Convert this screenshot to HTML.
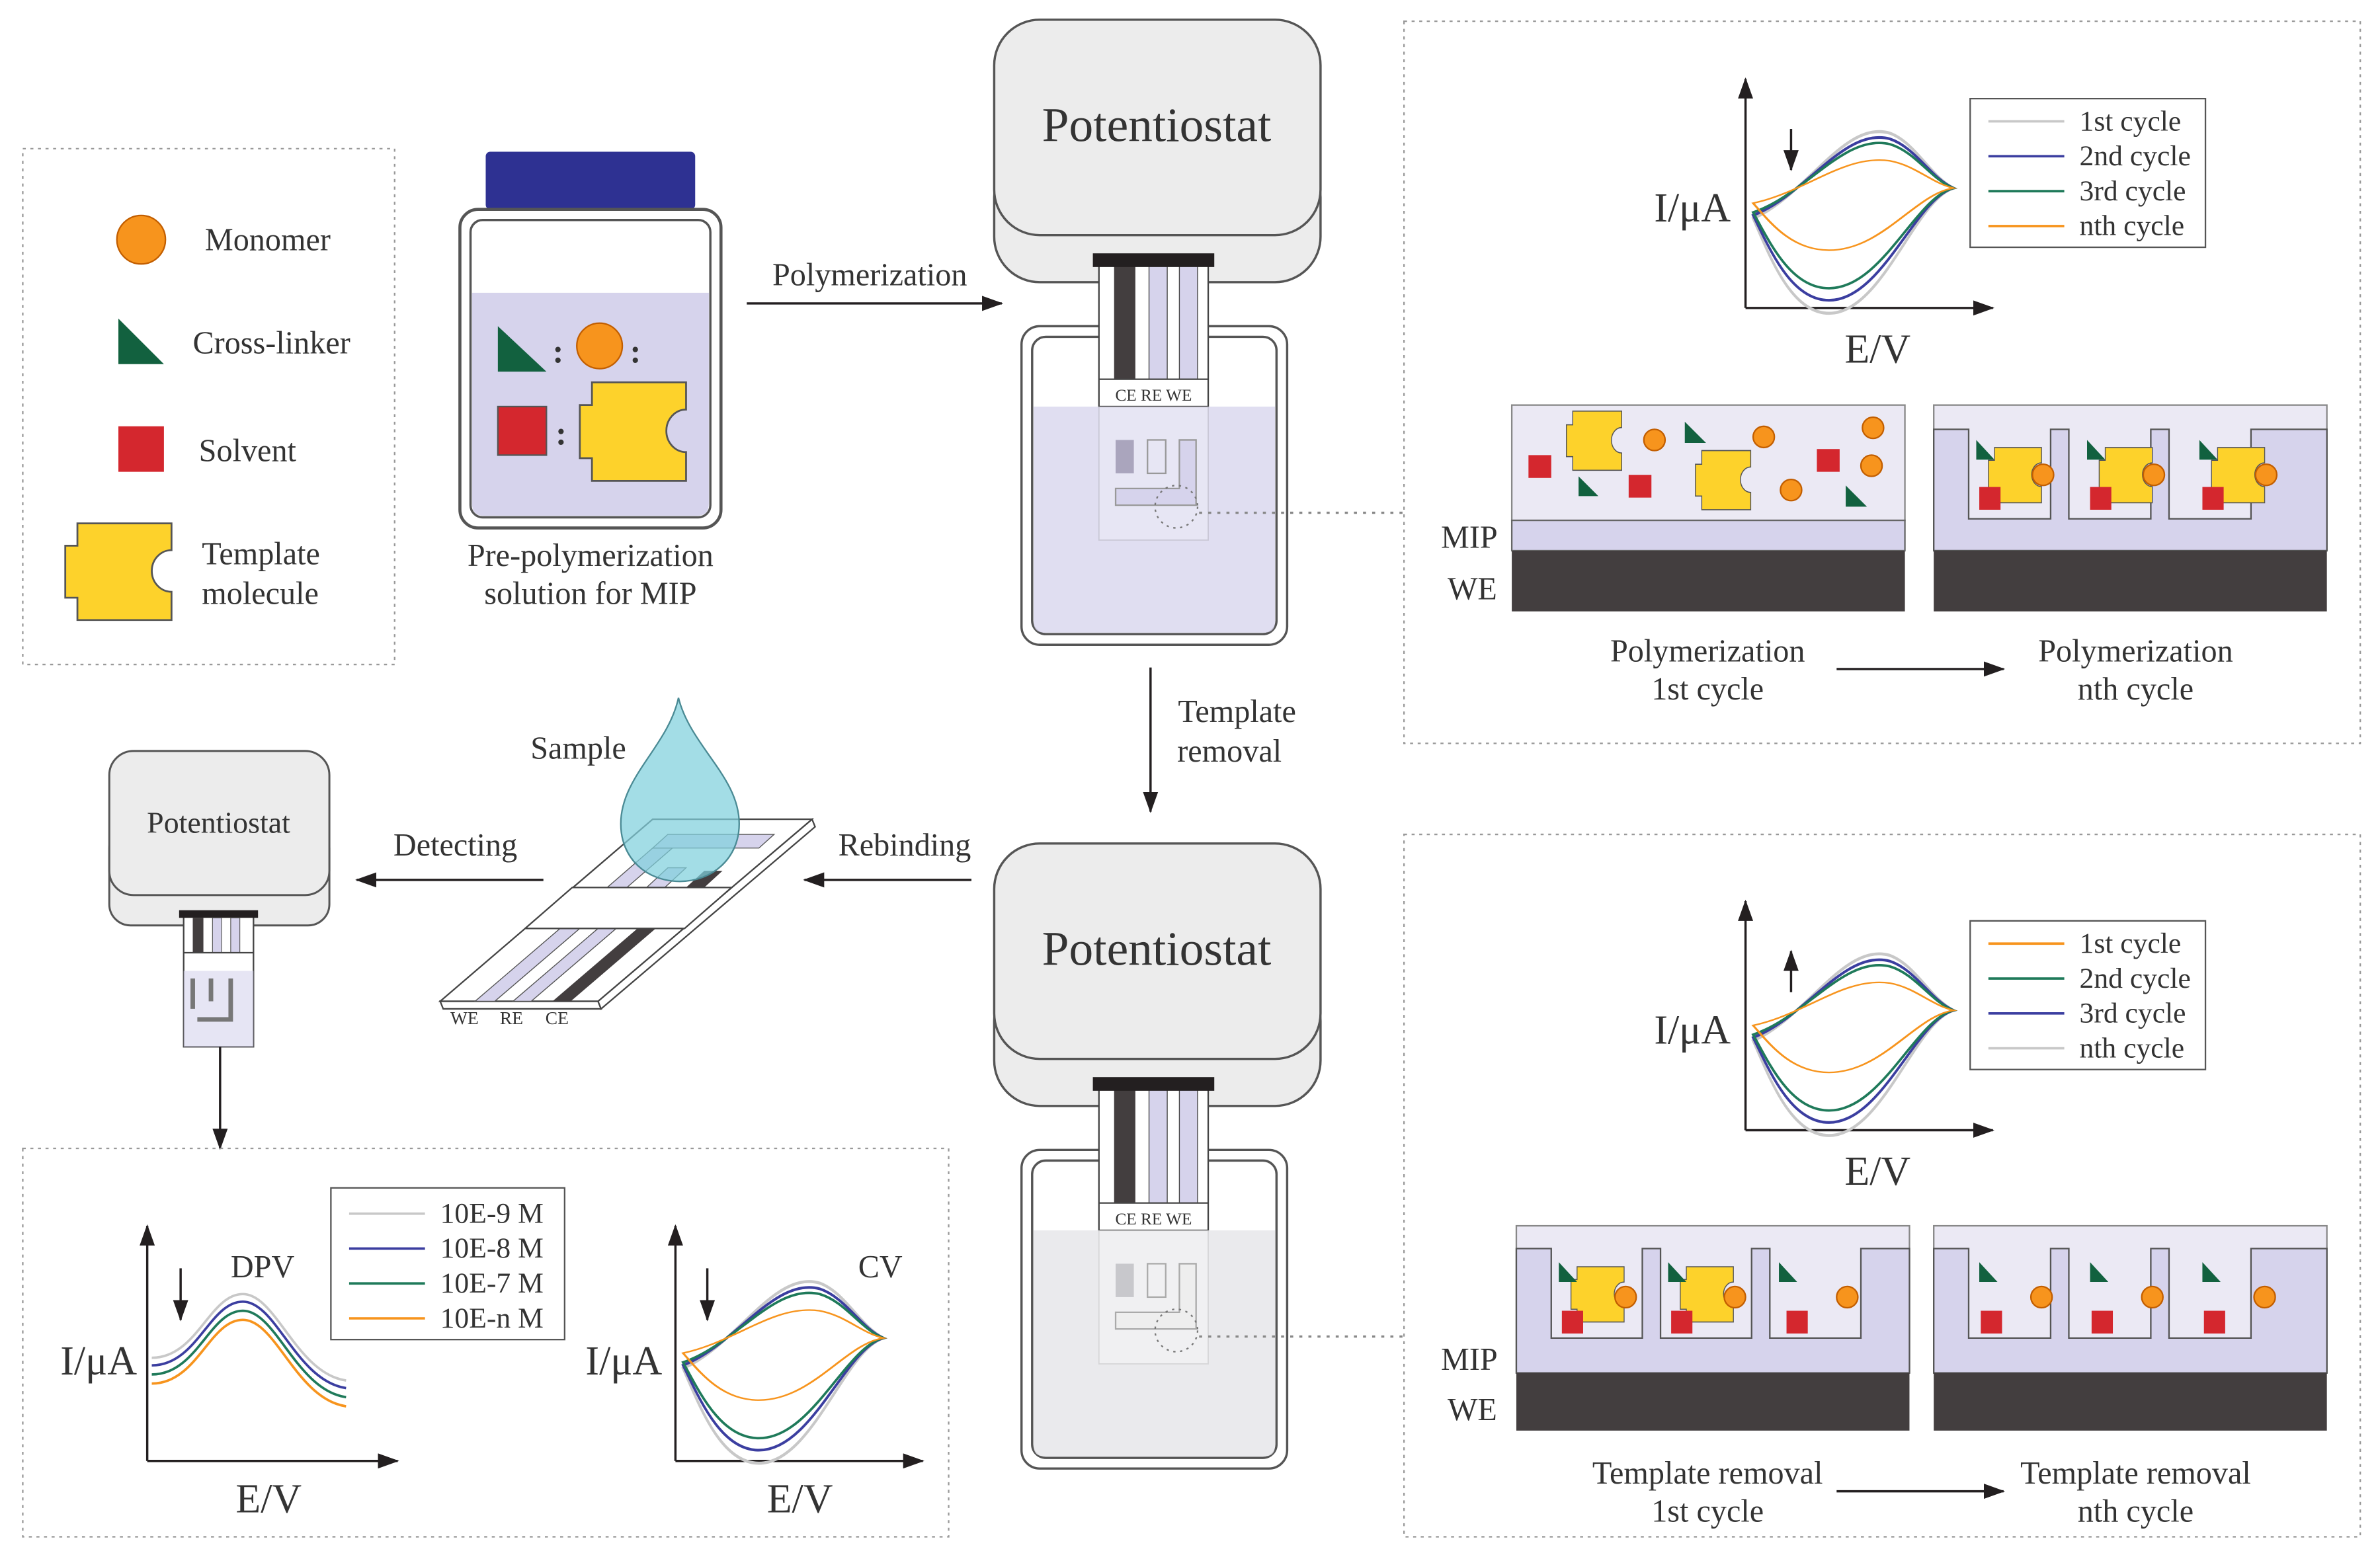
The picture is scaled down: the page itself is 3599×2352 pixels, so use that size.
<!DOCTYPE html>
<html><head><meta charset="utf-8"><style>
html,body{margin:0;padding:0;background:#fff}
svg{display:block}
text{font-family:"Liberation Serif",serif;fill:#333}
</style></head><body>
<svg width="3599" height="2352" viewBox="0 0 1568 1025" preserveAspectRatio="none" xmlns="http://www.w3.org/2000/svg">
<defs>
<marker id="ah2" viewBox="0 0 14 10" markerWidth="14" markerHeight="10" refX="13" refY="5" orient="auto" markerUnits="userSpaceOnUse"><path d="M0,0 L14,5 L0,10 Z" fill="#231f20"/></marker>
<path id="tpl" d="M8,0 H70 V18 A13,14 0 0 0 70,46 V65 H8 V50 H0 V15 H8 Z" fill="#fdd22b" stroke="#555" stroke-width="1.2"/>
<path id="cvc" d="M1155,140 C1190,128 1215,88 1245,95 C1262,100 1272,118 1287,124 C1262,130 1240,190 1205,190 C1180,190 1166,160 1155,140Z" fill="none" stroke-width="1.6"/>
</defs>

<!-- Legend -->
<rect x="15" y="98" width="245" height="340" fill="none" stroke="#999" stroke-dasharray="2,3"/>
<circle cx="93" cy="158" r="16" fill="#f7941d" stroke="#c25e00"/>
<text x="135" y="165" font-size="21">Monomer</text>
<path d="M78,210 L78,240 L108,240Z" fill="#12613f"/>
<text x="127" y="233" font-size="21">Cross-linker</text>
<rect x="78" y="281" width="30" height="30" fill="#d4272e"/>
<text x="131" y="304" font-size="21">Solvent</text>
<use href="#tpl" transform="translate(43,345) scale(1,0.98)"/>
<text x="133" y="372" font-size="21">Template</text>
<text x="133" y="398" font-size="21">molecule</text>

<!-- Bottle -->
<rect x="320" y="100" width="138" height="38" rx="3" fill="#2e3192"/>
<rect x="303" y="138" width="172" height="210" rx="12" fill="#fff" stroke="#555" stroke-width="2"/>
<rect x="310" y="145" width="158" height="196" rx="8" fill="none" stroke="#555" stroke-width="1.5"/>
<path d="M311,193 H467 V332 Q467,340 459,340 H319 Q311,340 311,332 Z" fill="#d6d3ec"/>
<path d="M328,215 L328,245 L360,245Z" fill="#12613f"/>
<text x="364" y="239" font-size="22" font-weight="bold">:</text>
<circle cx="395" cy="228" r="15" fill="#f7941d" stroke="#c25e00"/>
<text x="415" y="239" font-size="22" font-weight="bold">:</text>
<rect x="328" y="268" width="32" height="32" fill="#d4272e" stroke="#555"/>
<text x="366" y="293" font-size="22" font-weight="bold">:</text>
<use href="#tpl" transform="translate(382,252)"/>
<text x="389" y="373" font-size="21" text-anchor="middle">Pre-polymerization</text>
<text x="389" y="398" font-size="21" text-anchor="middle">solution for MIP</text>

<!-- Polymerization arrow -->
<line x1="492" y1="200" x2="660" y2="200" stroke="#231f20" stroke-width="1.5" marker-end="url(#ah2)"/>
<text x="573" y="188" font-size="21" text-anchor="middle">Polymerization</text>

<!-- Potentiostat top -->
<g>
<rect x="655" y="100" width="215" height="86" rx="30" fill="#ececec" stroke="#555" stroke-width="1.5"/>
<rect x="655" y="13" width="215" height="142" rx="30" fill="#ececec" stroke="#555" stroke-width="1.5"/>
<text x="762" y="93" font-size="32" text-anchor="middle" fill="#222">Potentiostat</text>
<rect x="673" y="215" width="175" height="210" rx="12" fill="#fff" stroke="#555" stroke-width="1.5"/>
<rect x="680" y="222" width="161" height="196" rx="9" fill="none" stroke="#555" stroke-width="1.5"/>
<rect x="724" y="175" width="72" height="93" fill="#fff" stroke="#444"/>
<rect x="734" y="175" width="14" height="75" fill="#433e3f"/>
<rect x="757" y="175" width="12" height="75" fill="#d6d3ec" stroke="#444" stroke-width="0.6"/>
<rect x="777" y="175" width="12" height="75" fill="#d6d3ec" stroke="#444" stroke-width="0.6"/>
<rect x="720" y="167" width="80" height="9" fill="#231f20"/>
<line x1="724" y1="250" x2="796" y2="250" stroke="#444"/>
<text x="760" y="264" font-size="11" text-anchor="middle">CE  RE  WE</text>
<path d="M681,268 H840 V410 Q840,417 833,417 H688 Q681,417 681,410 Z" fill="#d6d3ec" opacity="0.75"/>
<rect x="724" y="268" width="72" height="88" fill="#fff" opacity="0.25" stroke="#888" stroke-width="0.8"/>
<rect x="735" y="290" width="12" height="22" fill="#aaa5bd"/>
<rect x="756" y="290" width="12" height="22" fill="none" stroke="#999"/>
<path d="M777,290 V322 H735 V333 H788 V290 Z" fill="#d6d3ec" stroke="#999"/>
<circle cx="775" cy="334" r="14" fill="none" stroke="#777" stroke-dasharray="1.5,3"/>
<line x1="790" y1="338" x2="925" y2="338" stroke="#888" stroke-width="1.5" stroke-dasharray="2,4"/>
</g>

<!-- Template removal arrow -->
<line x1="758" y1="440" x2="758" y2="535" stroke="#231f20" stroke-width="1.5" marker-end="url(#ah2)"/>
<text x="815" y="476" font-size="21" text-anchor="middle">Template</text>
<text x="810" y="502" font-size="21" text-anchor="middle">removal</text>

<!-- Potentiostat bottom -->
<g transform="translate(0,543)">
<rect x="655" y="100" width="215" height="86" rx="30" fill="#ececec" stroke="#555" stroke-width="1.5"/>
<rect x="655" y="13" width="215" height="142" rx="30" fill="#ececec" stroke="#555" stroke-width="1.5"/>
<text x="762" y="93" font-size="32" text-anchor="middle" fill="#222">Potentiostat</text>
<rect x="673" y="215" width="175" height="210" rx="12" fill="#fff" stroke="#555" stroke-width="1.5"/>
<rect x="680" y="222" width="161" height="196" rx="9" fill="none" stroke="#555" stroke-width="1.5"/>
<rect x="724" y="175" width="72" height="93" fill="#fff" stroke="#444"/>
<rect x="734" y="175" width="14" height="75" fill="#433e3f"/>
<rect x="757" y="175" width="12" height="75" fill="#d6d3ec" stroke="#444" stroke-width="0.6"/>
<rect x="777" y="175" width="12" height="75" fill="#d6d3ec" stroke="#444" stroke-width="0.6"/>
<rect x="720" y="167" width="80" height="9" fill="#231f20"/>
<line x1="724" y1="250" x2="796" y2="250" stroke="#444"/>
<text x="760" y="264" font-size="11" text-anchor="middle">CE  RE  WE</text>
<path d="M681,268 H840 V410 Q840,417 833,417 H688 Q681,417 681,410 Z" fill="#e6e6ea" opacity="0.85"/>
<rect x="724" y="268" width="72" height="88" fill="#fff" opacity="0.3" stroke="#aaa" stroke-width="0.8"/>
<rect x="735" y="290" width="12" height="22" fill="#c8c8cc"/>
<rect x="756" y="290" width="12" height="22" fill="none" stroke="#aaa"/>
<path d="M777,290 V322 H735 V333 H788 V290 Z" fill="#eee" stroke="#aaa"/>
<circle cx="775" cy="334" r="14" fill="none" stroke="#777" stroke-dasharray="1.5,3"/>
<line x1="790" y1="338" x2="925" y2="338" stroke="#888" stroke-width="1.5" stroke-dasharray="2,4"/>
</g>

<!-- Right top box -->
<rect x="925" y="14" width="630" height="476" fill="none" stroke="#999" stroke-dasharray="2,3"/>
<line x1="1150" y1="203" x2="1150" y2="52" stroke="#231f20" stroke-width="1.5" marker-end="url(#ah2)"/>
<line x1="1150" y1="203" x2="1313" y2="203" stroke="#231f20" stroke-width="1.5" marker-end="url(#ah2)"/>
<text x="1115" y="146" font-size="27" text-anchor="middle">I/μA</text>
<text x="1237" y="239" font-size="27" text-anchor="middle">E/V</text>
<line x1="1180" y1="85" x2="1180" y2="112" stroke="#231f20" stroke-width="1.5" marker-end="url(#ah2)"/>
<use href="#cvc" stroke="#c8c8c8" transform="translate(0,124) scale(1,1.25) translate(0,-124)"/>
<use href="#cvc" stroke="#3b3ea0" transform="translate(0,124) scale(1,1.12) translate(0,-124)"/>
<use href="#cvc" stroke="#1f7a5a" transform="translate(0,124) scale(1,1.0) translate(0,-124)"/>
<use href="#cvc" stroke="#f7941d" transform="translate(0,124) scale(1,0.62) translate(0,-124)"/>
<rect x="1298" y="65" width="155" height="98" fill="#fff" stroke="#555"/>
<g font-size="19">
<line x1="1310" y1="80" x2="1360" y2="80" stroke="#c8c8c8" stroke-width="1.6"/><text x="1370" y="86">1st cycle</text>
<line x1="1310" y1="103" x2="1360" y2="103" stroke="#3b3ea0" stroke-width="1.6"/><text x="1370" y="109">2nd cycle</text>
<line x1="1310" y1="126" x2="1360" y2="126" stroke="#1f7a5a" stroke-width="1.6"/><text x="1370" y="132">3rd cycle</text>
<line x1="1310" y1="149" x2="1360" y2="149" stroke="#f7941d" stroke-width="1.6"/><text x="1370" y="155">nth cycle</text>
</g>
<!-- MIP panel 1 -->
<rect x="996" y="267" width="259" height="76" fill="#ebe9f4" stroke="#888"/>
<rect x="996" y="343" width="259" height="20" fill="#d6d3ec" stroke="#666"/>
<rect x="996" y="363" width="259" height="40" fill="#433e3f"/>
<use href="#tpl" transform="translate(1032,271) scale(0.52,0.6)"/>
<use href="#tpl" transform="translate(1117,297) scale(0.52,0.6)"/>
<g fill="#f7941d" stroke="#c25e00">
<circle cx="1090" cy="290" r="7"/><circle cx="1162" cy="288" r="7"/><circle cx="1234" cy="282" r="7"/><circle cx="1233" cy="307" r="7"/><circle cx="1180" cy="323" r="7"/>
</g>
<g fill="#d4272e"><rect x="1007" y="300" width="15" height="15"/><rect x="1073" y="313" width="15" height="15"/><rect x="1197" y="296" width="15" height="15"/></g>
<g fill="#12613f"><path d="M1110,278 L1110,292 L1124,292Z"/><path d="M1040,314 L1040,327 L1053,327Z"/><path d="M1216,320 L1216,334 L1230,334Z"/></g>
<text x="968" y="361" font-size="21" text-anchor="middle">MIP</text>
<text x="970" y="395" font-size="21" text-anchor="middle">WE</text>
<!-- MIP panel 2 -->
<rect x="1274" y="267" width="259" height="96" fill="#ebe9f4" stroke="#888"/>
<path d="M1274,283 H1297 V342 H1351 V283 H1363 V342 H1417 V283 H1429 V342 H1483 V283 H1533 V363 H1274Z" fill="#d6d3ec" stroke="#555"/>
<rect x="1274" y="363" width="259" height="40" fill="#433e3f"/>
<g id="cav1">
<use href="#tpl" transform="translate(1310,295) scale(0.5,0.56)"/>
<circle cx="1346" cy="313" r="7" fill="#f7941d" stroke="#c25e00"/>
<path d="M1302,290 L1302,303 L1314,303Z" fill="#12613f"/>
<rect x="1304" y="321" width="14" height="15" fill="#d4272e"/>
</g>
<use href="#cav1" transform="translate(73,0)"/>
<use href="#cav1" transform="translate(147,0)"/>
<text x="1125" y="436" font-size="21" text-anchor="middle">Polymerization</text>
<text x="1125" y="461" font-size="21" text-anchor="middle">1st cycle</text>
<line x1="1210" y1="441" x2="1320" y2="441" stroke="#231f20" stroke-width="1.5" marker-end="url(#ah2)"/>
<text x="1407" y="436" font-size="21" text-anchor="middle">Polymerization</text>
<text x="1407" y="461" font-size="21" text-anchor="middle">nth cycle</text>

<!-- Right bottom box -->
<rect x="925" y="550" width="630" height="463" fill="none" stroke="#999" stroke-dasharray="2,3"/>
<g transform="translate(0,542)">
<line x1="1150" y1="203" x2="1150" y2="52" stroke="#231f20" stroke-width="1.5" marker-end="url(#ah2)"/>
<line x1="1150" y1="203" x2="1313" y2="203" stroke="#231f20" stroke-width="1.5" marker-end="url(#ah2)"/>
<text x="1115" y="146" font-size="27" text-anchor="middle">I/μA</text>
<text x="1237" y="239" font-size="27" text-anchor="middle">E/V</text>
<line x1="1180" y1="112" x2="1180" y2="85" stroke="#231f20" stroke-width="1.5" marker-end="url(#ah2)"/>
<use href="#cvc" stroke="#c8c8c8" transform="translate(0,124) scale(1,1.25) translate(0,-124)"/>
<use href="#cvc" stroke="#3b3ea0" transform="translate(0,124) scale(1,1.12) translate(0,-124)"/>
<use href="#cvc" stroke="#1f7a5a" transform="translate(0,124) scale(1,1.0) translate(0,-124)"/>
<use href="#cvc" stroke="#f7941d" transform="translate(0,124) scale(1,0.62) translate(0,-124)"/>
<rect x="1298" y="65" width="155" height="98" fill="#fff" stroke="#555"/>
<g font-size="19">
<line x1="1310" y1="80" x2="1360" y2="80" stroke="#f7941d" stroke-width="1.6"/><text x="1370" y="86">1st cycle</text>
<line x1="1310" y1="103" x2="1360" y2="103" stroke="#1f7a5a" stroke-width="1.6"/><text x="1370" y="109">2nd cycle</text>
<line x1="1310" y1="126" x2="1360" y2="126" stroke="#3b3ea0" stroke-width="1.6"/><text x="1370" y="132">3rd cycle</text>
<line x1="1310" y1="149" x2="1360" y2="149" stroke="#c8c8c8" stroke-width="1.6"/><text x="1370" y="155">nth cycle</text>
</g>
</g>
<!-- bottom MIP panels -->
<rect x="999" y="808" width="259" height="97" fill="#ebe9f4" stroke="#888"/>
<path d="M999,823 H1022 V882 H1082 V823 H1094 V882 H1154 V823 H1166 V882 H1226 V823 H1258 V905 H999Z" fill="#d6d3ec" stroke="#555"/>
<rect x="999" y="905" width="259" height="38" fill="#433e3f"/>
<g id="cav2">
<use href="#tpl" transform="translate(1035,835) scale(0.5,0.56)"/>
<circle cx="1071" cy="855" r="7" fill="#f7941d" stroke="#c25e00"/>
<path d="M1027,832 L1027,845 L1039,845Z" fill="#12613f"/>
<rect x="1029" y="864" width="14" height="15" fill="#d4272e"/>
</g>
<use href="#cav2" transform="translate(72,0)"/>
<path d="M1172,832 L1172,845 L1184,845Z" fill="#12613f"/>
<rect x="1177" y="864" width="14" height="15" fill="#d4272e"/>
<circle cx="1217" cy="855" r="7" fill="#f7941d" stroke="#c25e00"/>
<rect x="1274" y="808" width="259" height="97" fill="#ebe9f4" stroke="#888"/>
<path d="M1274,823 H1297 V882 H1351 V823 H1363 V882 H1417 V823 H1429 V882 H1483 V823 H1533 V905 H1274Z" fill="#d6d3ec" stroke="#555"/>
<rect x="1274" y="905" width="259" height="38" fill="#433e3f"/>
<g id="cav3">
<path d="M1304,832 L1304,845 L1316,845Z" fill="#12613f"/>
<rect x="1305" y="864" width="14" height="15" fill="#d4272e"/>
<circle cx="1345" cy="855" r="7" fill="#f7941d" stroke="#c25e00"/>
</g>
<use href="#cav3" transform="translate(73,0)"/>
<use href="#cav3" transform="translate(147,0)"/>
<text x="968" y="903" font-size="21" text-anchor="middle">MIP</text>
<text x="970" y="936" font-size="21" text-anchor="middle">WE</text>
<text x="1125" y="978" font-size="21" text-anchor="middle">Template removal</text>
<text x="1125" y="1003" font-size="21" text-anchor="middle">1st cycle</text>
<line x1="1210" y1="983" x2="1320" y2="983" stroke="#231f20" stroke-width="1.5" marker-end="url(#ah2)"/>
<text x="1407" y="978" font-size="21" text-anchor="middle">Template removal</text>
<text x="1407" y="1003" font-size="21" text-anchor="middle">nth cycle</text>

<!-- Rebinding / detecting -->
<line x1="640" y1="580" x2="530" y2="580" stroke="#231f20" stroke-width="1.5" marker-end="url(#ah2)"/>
<text x="596" y="564" font-size="21" text-anchor="middle">Rebinding</text>
<line x1="358" y1="580" x2="235" y2="580" stroke="#231f20" stroke-width="1.5" marker-end="url(#ah2)"/>
<text x="300" y="564" font-size="21" text-anchor="middle">Detecting</text>

<!-- strip -->
<path d="M290,660 L394,660 L396,665 L292,665Z" fill="#fff" stroke="#444"/>
<path d="M394,660 L535,540 L537,545 L396,665Z" fill="#fff" stroke="#444"/>
<path d="M290,660 L430,540 L535,540 L394,660Z" fill="#fff" stroke="#444"/>
<!-- lower stripes -->
<path d="M313,660 L369,612 L382,612 L326,660Z" fill="#d6d3ec" stroke="#555" stroke-width="0.6"/>
<path d="M338,660 L394,612 L406,612 L350,660Z" fill="#d6d3ec" stroke="#555" stroke-width="0.6"/>
<path d="M364,660 L420,612 L432,612 L376,660Z" fill="#433e3f"/>
<!-- upper stripes -->
<path d="M400,585 L430,559 L443,559 L413,585Z" fill="#d6d3ec" stroke="#555" stroke-width="0.6"/>
<path d="M426,585 L440,572 L452,572 L438,585Z" fill="#d6d3ec" stroke="#555" stroke-width="0.6"/>
<path d="M452,585 L464,574 L476,574 L464,585Z" fill="#433e3f"/>
<path d="M430,559 L440,550 L510,550 L500,559Z" fill="#d6d3ec" stroke="#555" stroke-width="0.6"/>
<!-- band -->
<path d="M377,585 L482,585 L451,612 L346,612Z" fill="#fff" stroke="#444"/>
<path d="M420,460 C430,495 487,515 487,545 C487,568 470,581 448,581 C425,581 409,566 409,545 C409,515 440,495 447,460Z" fill="none"/>
<path d="M447,460 C455,492 487,512 487,543 C487,566 469,581 448,581 C426,581 409,566 409,543 C409,512 440,492 447,460Z" fill="#7fd0dc" fill-opacity="0.72" stroke="#4a8a94"/>
<text x="381" y="500" font-size="21" text-anchor="middle">Sample</text>
<text x="306" y="675" font-size="12" text-anchor="middle" fill="#666">WE</text>
<text x="337" y="675" font-size="12" text-anchor="middle" fill="#666">RE</text>
<text x="367" y="675" font-size="12" text-anchor="middle" fill="#666">CE</text>

<!-- small potentiostat -->
<rect x="72" y="545" width="145" height="65" rx="14" fill="#ececec" stroke="#555" stroke-width="1.3"/>
<rect x="72" y="495" width="145" height="95" rx="16" fill="#ececec" stroke="#555" stroke-width="1.3"/>
<text x="144" y="549" font-size="20" text-anchor="middle" fill="#222">Potentiostat</text>
<rect x="121" y="604" width="46" height="86" fill="#fff" stroke="#444"/>
<rect x="118" y="600" width="52" height="5" fill="#231f20"/>
<rect x="127" y="605" width="7" height="23" fill="#433e3f"/>
<rect x="140" y="605" width="6" height="23" fill="#d6d3ec" stroke="#555" stroke-width="0.5"/>
<rect x="152" y="605" width="6" height="23" fill="#d6d3ec" stroke="#555" stroke-width="0.5"/>
<line x1="121" y1="628" x2="167" y2="628" stroke="#444"/>
<rect x="121" y="640" width="46" height="50" fill="#d6d3ec" opacity="0.6"/>
<path d="M127,645 V665 M139,645 V660 M152,645 V672 H130" stroke="#777" fill="none" stroke-width="3"/>
<line x1="145" y1="690" x2="145" y2="757" stroke="#231f20" stroke-width="1.5" marker-end="url(#ah2)"/>

<!-- bottom-left box -->
<rect x="15" y="757" width="610" height="256" fill="none" stroke="#999" stroke-dasharray="2,3"/>
<line x1="97" y1="963" x2="97" y2="808" stroke="#231f20" stroke-width="1.5" marker-end="url(#ah2)"/>
<line x1="97" y1="963" x2="262" y2="963" stroke="#231f20" stroke-width="1.5" marker-end="url(#ah2)"/>
<text x="65" y="906" font-size="27" text-anchor="middle">I/μA</text>
<text x="177" y="997" font-size="27" text-anchor="middle">E/V</text>
<text x="173" y="842" font-size="21" text-anchor="middle">DPV</text>
<line x1="119" y1="836" x2="119" y2="870" stroke="#231f20" stroke-width="1.5" marker-end="url(#ah2)"/>
<g fill="none" stroke-width="1.6">
<path d="M100,895 C130,895 138,853 160,853 C182,853 195,905 228,910" stroke="#c8c8c8"/>
<path d="M100,900 C130,900 138,858 160,858 C182,858 195,910 228,915" stroke="#3b3ea0"/>
<path d="M100,906 C130,906 138,864 160,864 C182,864 195,916 228,921" stroke="#1f7a5a"/>
<path d="M100,912 C130,912 138,870 160,870 C182,870 195,922 228,927" stroke="#f7941d"/>
</g>
<rect x="218" y="783" width="154" height="100" fill="#fff" stroke="#555"/>
<g font-size="19">
<line x1="230" y1="800" x2="280" y2="800" stroke="#c8c8c8" stroke-width="1.6"/><text x="290" y="806">10E-9 M</text>
<line x1="230" y1="823" x2="280" y2="823" stroke="#3b3ea0" stroke-width="1.6"/><text x="290" y="829">10E-8 M</text>
<line x1="230" y1="846" x2="280" y2="846" stroke="#1f7a5a" stroke-width="1.6"/><text x="290" y="852">10E-7 M</text>
<line x1="230" y1="869" x2="280" y2="869" stroke="#f7941d" stroke-width="1.6"/><text x="290" y="875">10E-n M</text>
</g>
<line x1="445" y1="963" x2="445" y2="808" stroke="#231f20" stroke-width="1.5" marker-end="url(#ah2)"/>
<line x1="445" y1="963" x2="608" y2="963" stroke="#231f20" stroke-width="1.5" marker-end="url(#ah2)"/>
<text x="411" y="906" font-size="27" text-anchor="middle">I/μA</text>
<text x="527" y="997" font-size="27" text-anchor="middle">E/V</text>
<text x="580" y="842" font-size="21" text-anchor="middle">CV</text>
<line x1="466" y1="836" x2="466" y2="870" stroke="#231f20" stroke-width="1.5" marker-end="url(#ah2)"/>
<g transform="translate(-705,758)">
<use href="#cvc" stroke="#c8c8c8" transform="translate(0,124) scale(1,1.25) translate(0,-124)"/>
<use href="#cvc" stroke="#3b3ea0" transform="translate(0,124) scale(1,1.12) translate(0,-124)"/>
<use href="#cvc" stroke="#1f7a5a" transform="translate(0,124) scale(1,1.0) translate(0,-124)"/>
<use href="#cvc" stroke="#f7941d" transform="translate(0,124) scale(1,0.62) translate(0,-124)"/>
</g>
</svg>
</body></html>
